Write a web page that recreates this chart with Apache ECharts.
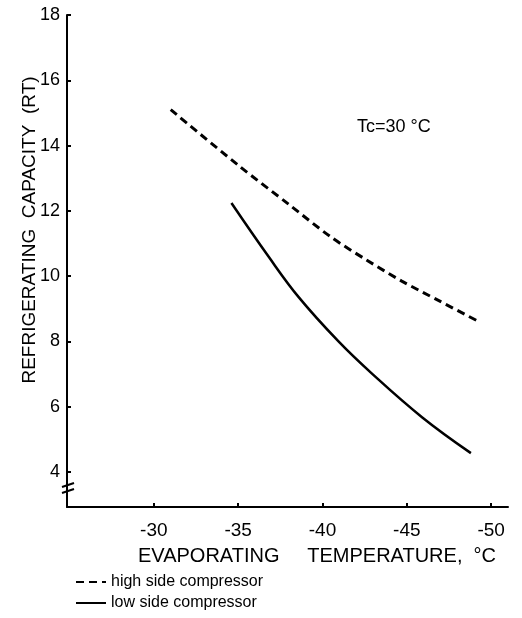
<!DOCTYPE html>
<html>
<head>
<meta charset="utf-8">
<script src="https://cdn.jsdelivr.net/npm/echarts@6/dist/echarts.min.js"></script>
<style>
  html, body { margin: 0; padding: 0; background: #fff; }
  #chart { width: 522px; height: 618px; }
</style>
</head>
<body>
<div id="chart"></div>
<script>
// 横轴刻度 (蒸发温度, °C) 和纵轴刻度 (RT)
const xTicks = [-30, -35, -40, -45, -50]
const yTicks = [4, 6, 8, 10, 12, 14, 16, 18]

// high side compressor（虚线）
const highTemp = [-31, -35, -38, -40.5, -42.6, -44.7, -46.9, -49.3]
const highCap = [15.1, 13.4, 12.2, 11.2, 10.5, 9.85, 9.25, 8.6]

// low side compressor（实线）
const lowTemp = [-34.6, -36.8, -38.6, -40.95, -42.9, -45.9, -48.8]
const lowCap = [12.24, 10.6, 9.35, 8.0, 7.03, 5.68, 4.58]

const font = 'Liberation Sans, Arial, sans-serif'

const chart = echarts.init(document.getElementById('chart'))

const option = {
  animation: false,
  backgroundColor: '#fff',
  color: ['#000', '#000'],
  grid: { left: 67, right: 14, top: 15, bottom: 111 },
  xAxis: {
    type: 'value',
    inverse: true,
    min: -51,
    max: -24.85,
    splitLine: { show: false },
    axisLine: { lineStyle: { color: '#000', width: 2 } },
    axisTick: { inside: true, length: 4, lineStyle: { color: '#000', width: 2 }, customValues: xTicks },
    axisLabel: { color: '#000', fontSize: 19, fontFamily: font, margin: 14, customValues: xTicks },
  },
  yAxis: {
    type: 'value',
    min: 2.93,
    max: 18,
    splitLine: { show: false },
    axisLine: { lineStyle: { color: '#000', width: 2 } },
    axisTick: { inside: true, length: 4, lineStyle: { color: '#000', width: 2 }, customValues: yTicks },
    axisLabel: { color: '#000', fontSize: 18, fontFamily: font, margin: 7, customValues: yTicks },
  },
  legend: {
    orient: 'vertical',
    left: 70,
    top: 569,
    itemWidth: 30,
    itemHeight: 10,
    itemGap: 5,
    itemStyle: { opacity: 0 },
    textStyle: { color: '#000', fontSize: 16, fontFamily: font },
    data: ['high side compressor', 'low side compressor'],
  },
  series: [
    {
      name: 'high side compressor',
      type: 'line',
      smooth: 0.3,
      symbol: 'none',
      lineStyle: { color: '#000', width: 3, type: [8, 5] },
      data: highTemp.map((t, i) => [t, highCap[i]]),
    },
    {
      name: 'low side compressor',
      type: 'line',
      smooth: 0.4,
      symbol: 'none',
      lineStyle: { color: '#000', width: 2.5 },
      data: lowTemp.map((t, i) => [t, lowCap[i]]),
    },
  ],
  graphic: [
    {
      type: 'text',
      left: 357,
      top: 118,
      style: { text: 'Tc=30 °C', fill: '#000', font: '18px ' + font },
    },
    {
      type: 'text',
      x: 30,
      y: 230,
      rotation: Math.PI / 2,
      style: {
        text: 'REFRIGERATING  CAPACITY  (RT)',
        fill: '#000',
        font: '19px ' + font,
        align: 'center',
        verticalAlign: 'middle',
      },
    },
    {
      type: 'text',
      x: 317,
      y: 556,
      style: {
        text: 'EVAPORATING     TEMPERATURE,  °C',
        fill: '#000',
        font: '20px ' + font,
        align: 'center',
        verticalAlign: 'middle',
      },
    },
    // 纵轴断开符号
    {
      type: 'line',
      shape: { x1: 62, y1: 487, x2: 74, y2: 483 },
      style: { stroke: '#000', lineWidth: 2 },
    },
    {
      type: 'line',
      shape: { x1: 62, y1: 493, x2: 74, y2: 489 },
      style: { stroke: '#000', lineWidth: 2 },
    },
  ],
}

chart.setOption(option)
</script>
</body>
</html>
